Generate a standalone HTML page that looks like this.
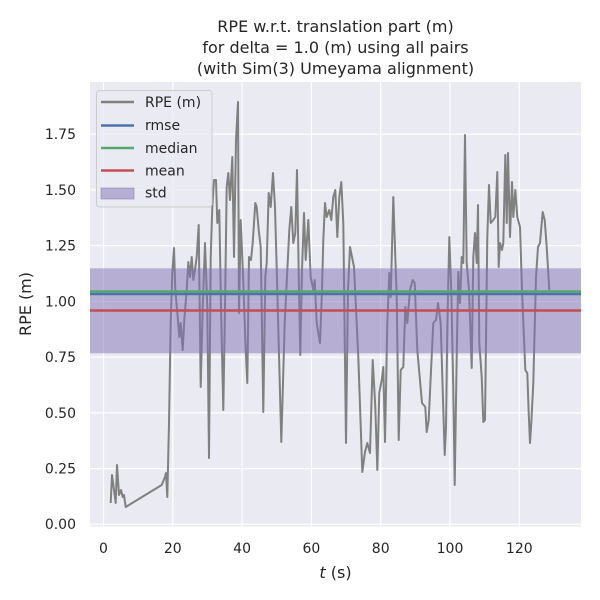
<!DOCTYPE html>
<html><head><meta charset="utf-8"><style>
html,body{margin:0;padding:0;background:#fff;}
svg{display:block;font-family:"DejaVu Sans","Liberation Sans",sans-serif;}
</style></head><body>
<svg width="600" height="600" viewBox="0 0 600 600" xmlns="http://www.w3.org/2000/svg">
<rect x="0" y="0" width="600" height="600" fill="#fff"/>
<rect x="90" y="82" width="491" height="444.5" fill="#eaeaf2"/>
<g stroke="#fff" stroke-width="1.2">
<line x1="103.5" y1="82" x2="103.5" y2="526.5"/>
<line x1="172.8" y1="82" x2="172.8" y2="526.5"/>
<line x1="242.1" y1="82" x2="242.1" y2="526.5"/>
<line x1="311.4" y1="82" x2="311.4" y2="526.5"/>
<line x1="380.7" y1="82" x2="380.7" y2="526.5"/>
<line x1="450" y1="82" x2="450" y2="526.5"/>
<line x1="519.3" y1="82" x2="519.3" y2="526.5"/>
<line x1="90" y1="524.3" x2="581" y2="524.3"/>
<line x1="90" y1="468.6" x2="581" y2="468.6"/>
<line x1="90" y1="412.9" x2="581" y2="412.9"/>
<line x1="90" y1="357.1" x2="581" y2="357.1"/>
<line x1="90" y1="301.4" x2="581" y2="301.4"/>
<line x1="90" y1="245.7" x2="581" y2="245.7"/>
<line x1="90" y1="190" x2="581" y2="190"/>
<line x1="90" y1="134.2" x2="581" y2="134.2"/>
</g>
<polyline fill="none" stroke="#808080" stroke-width="2" stroke-linejoin="round" points="110.7,503 112,475 114,490 115.7,503 117,465 119,495 121,490 122.7,497 124,495 125.7,507 161.7,485 165,477 166,473 167.3,497 169,423 170.7,323 172.3,273 174,248 175.3,290 177.7,317 179.3,337 180.7,323 182.7,350 184.3,320 186.7,290 188.3,262 190,277 191.7,257 193.3,280 195,270 196.7,257 198.7,225 200.7,387 202.7,307 205,243 207.3,307 209,458 210.7,257 212.3,207 214,180 216,180 217.3,223 219.3,210 221,307 223.3,410 225,307 226.7,187 228.3,173 230,200 232.3,157 234,257 236,140 238,102 239,313 240.7,220 243.3,283 245.7,350 247.3,383 249,257 251,260 252.7,243 255.3,203 256.7,207 258.7,230 260.7,247 263.3,412 265.3,277 266.7,263 268.7,193 270.7,207 273,173 275,207 277.3,290 281.3,442 284.7,323 289.3,230 291.3,207 293.3,243 295.3,233 297,170 298.7,273 300.3,355 302,270 304,213 305.7,260 308.3,220 310.7,277 313.3,290 314.7,280 316.7,323 318.3,333 320,343 322,290 323.3,240 325,203 326.7,217 329.3,210 331.3,220 333.3,197 335.3,190 337.3,237 339.3,197 341.3,182 343.3,223 346,443 348,290 350,247 354,267 358.3,357 362.3,472 365,452 367.3,443 370,453 372.7,360 375.3,407 377.3,470 379.3,393 381.7,380 383.3,367 385,442 387.3,323 389.3,273 390.7,297 393.3,197 395.3,257 396.7,297 398.7,440 400.7,370 403.3,367 405.3,307 407.3,323 410,290 412.7,280 414.7,283 417.3,350 422,403 425.3,407 426.7,432 428.7,420 430.7,377 433.3,323 436,320 438,303 440.7,323 442.7,390 444.7,455 446,427 447.3,330 449.3,237 451.3,293 453.3,390 454.7,485 456.7,357 458.3,272 460,303 461.7,257 463.3,263 465,135 466.7,263 469,290 471.7,368 473.3,257 475,233 476.7,263 478,205 479.3,343 481.7,377 483.3,422 485,420 487.3,237 489,185 490.7,223 493.3,220 495.3,217 497.3,172 498.7,267 500,243 502,250 503.3,243 505.3,155 506.7,223 508,153 510,237 512,182 513.3,217 515.3,190 517.3,217 520,227 522,290 525.3,370 527.3,373 528.7,413 530,443 531.3,423 533.3,383 536,277 538,247 540,243 542.7,212 544.7,220 546.7,247 549.3,290"/>
<rect x="90" y="268.3" width="491" height="85" fill="#8172b3" fill-opacity="0.5"/>
<line x1="90" y1="294" x2="581" y2="294" stroke="#4c72b0" stroke-width="2.5"/>
<line x1="90" y1="291.5" x2="581" y2="291.5" stroke="#55a868" stroke-width="2.5"/>
<line x1="90" y1="310.5" x2="581" y2="310.5" stroke="#c44e52" stroke-width="2.5"/>
<rect x="96.5" y="90.5" width="115.5" height="116.5" rx="3" fill="#eaeaf2" fill-opacity="0.8" stroke="#cccccc" stroke-width="1"/>
<g stroke-width="2.5">
<line x1="101" y1="102" x2="134" y2="102" stroke="#808080"/>
<line x1="101" y1="125.5" x2="134" y2="125.5" stroke="#4c72b0"/>
<line x1="101" y1="148" x2="134" y2="148" stroke="#55a868"/>
<line x1="101" y1="170.5" x2="134" y2="170.5" stroke="#c44e52"/>
</g>
<rect x="101" y="188" width="33" height="11" fill="#8172b3" fill-opacity="0.5" stroke="#8172b3" stroke-opacity="0.5"/>
<g font-size="14" fill="#262626">
<text x="145" y="107">RPE (m)</text>
<text x="145" y="130">rmse</text>
<text x="145" y="153">median</text>
<text x="145" y="175.5">mean</text>
<text x="145" y="197.5">std</text>
</g>
<g font-size="14" fill="#262626" text-anchor="end">
<text x="76" y="529">0.00</text>
<text x="76" y="473.5">0.25</text>
<text x="76" y="417.8">0.50</text>
<text x="76" y="362">0.75</text>
<text x="76" y="306.3">1.00</text>
<text x="76" y="250.6">1.25</text>
<text x="76" y="195">1.50</text>
<text x="76" y="139.2">1.75</text>
</g>
<g font-size="14" fill="#262626" text-anchor="middle">
<text x="103.5" y="553">0</text>
<text x="172.8" y="553">20</text>
<text x="242.1" y="553">40</text>
<text x="311.4" y="553">60</text>
<text x="380.7" y="553">80</text>
<text x="450" y="553">100</text>
<text x="519.3" y="553">120</text>
</g>
<text x="335.5" y="578" font-size="16" fill="#262626" text-anchor="middle"><tspan font-style="italic">t</tspan> (s)</text>
<text transform="translate(31,304) rotate(-90)" font-size="16" fill="#262626" text-anchor="middle">RPE (m)</text>
<g font-size="16" fill="#262626" text-anchor="middle">
<text x="335.5" y="32">RPE w.r.t. translation part (m)</text>
<text x="335.5" y="53">for delta = 1.0 (m) using all pairs</text>
<text x="335.5" y="74">(with Sim(3) Umeyama alignment)</text>
</g>
</svg>
</body></html>
